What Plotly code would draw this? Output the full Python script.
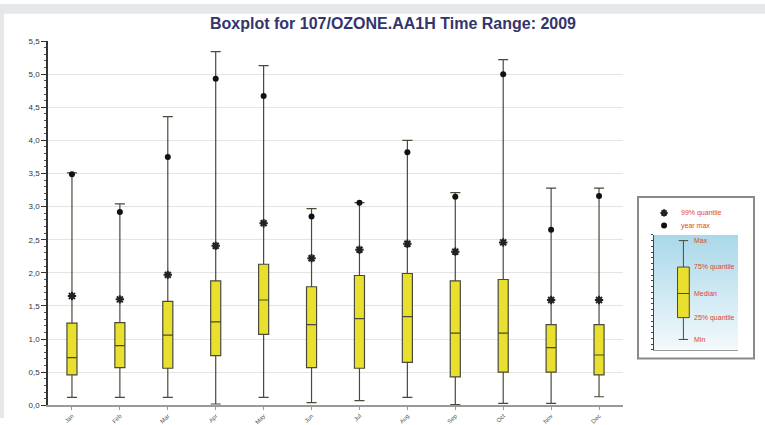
import plotly.graph_objects as go

# ---- data ----
months = ["Jan", "Feb", "Mar", "Apr", "May", "Jun", "Jul", "Aug", "Sep", "Oct", "Nov", "Dec"]
mins    = [0.12, 0.12, 0.12, 0.02, 0.12, 0.04, 0.07, 0.12, 0.01, 0.03, 0.03, 0.13]
q1s     = [0.46, 0.57, 0.56, 0.75, 1.07, 0.57, 0.56, 0.65, 0.43, 0.50, 0.50, 0.46]
medians = [0.72, 0.90, 1.06, 1.26, 1.59, 1.22, 1.31, 1.34, 1.09, 1.09, 0.87, 0.76]
q3s     = [1.24, 1.25, 1.57, 1.88, 2.13, 1.79, 1.96, 1.99, 1.88, 1.90, 1.22, 1.22]
maxs    = [3.51, 3.04, 4.36, 5.34, 5.13, 2.97, 3.06, 4.00, 3.21, 5.22, 3.28, 3.28]
q99     = [1.65, 1.60, 1.97, 2.41, 2.75, 2.22, 2.35, 2.44, 2.32, 2.46, 1.59, 1.59]
dotmax  = [3.49, 2.92, 3.75, 4.93, 4.67, 2.85, 3.06, 3.82, 3.15, 5.00, 2.65, 3.16]

title_text = "Boxplot for 107/OZONE.AA1H Time Range: 2009"
legend_marker_labels = ["99% quantile", "year max"]
legend_box_labels = ["Min", "25% quantile", "Median", "75% quantile", "Max"]
legend_box_sample = [0.9, 2.8, 4.9, 7.2, 9.5]   # illustrative key box (min, q1, med, q3, max)

W, H = 765, 425
def px_x(p):
    return p / W
def px_y(p):
    return 1 - p / H

yellow = "#e8df2e"
key_red = "#e0452e"

fig = go.Figure()

# ---- main chart ----
fig.add_trace(go.Box(
    x=months, q1=q1s, median=medians, q3=q3s,
    lowerfence=mins, upperfence=maxs,
    boxpoints=False, width=0.21, whiskerwidth=1,
    fillcolor=yellow, line=dict(color="#4a4a3a", width=1.2),
    xaxis="x", yaxis="y", showlegend=False, hoverinfo="skip",
))
fig.add_trace(go.Scatter(
    x=months, y=q99, mode="markers",
    marker=dict(symbol="asterisk-open", size=7, color="#222", line=dict(width=2, color="#222")),
    showlegend=False, hoverinfo="skip",
))
fig.add_trace(go.Scatter(
    x=months, y=dotmax, mode="markers",
    marker=dict(symbol="circle", size=6, color="#111"),
    showlegend=False, hoverinfo="skip",
))

# ---- key panel ----
fig.add_trace(go.Scatter(
    x=[0, 1, 1, 0, 0], y=[0, 0, 10, 10, 0], xaxis="x2", yaxis="y2",
    mode="lines", line=dict(width=0), fill="toself",
    fillgradient=dict(type="vertical", colorscale=[[0, "#f3f9fc"], [1, "#a9d8ea"]]),
    showlegend=False, hoverinfo="skip",
))
fig.add_trace(go.Box(
    x=[0.35], q1=[legend_box_sample[1]], median=[legend_box_sample[2]], q3=[legend_box_sample[3]],
    lowerfence=[legend_box_sample[0]], upperfence=[legend_box_sample[4]],
    boxpoints=False, width=0.14, whiskerwidth=0.8,
    fillcolor=yellow, line=dict(color="#4a4a3a", width=1),
    xaxis="x3", yaxis="y3", showlegend=False, hoverinfo="skip",
))
fig.add_trace(go.Scatter(
    x=[0.12], y=[1.5], mode="markers", xaxis="x4", yaxis="y4",
    marker=dict(symbol="asterisk-open", size=6, color="#222", line=dict(width=2, color="#222")),
    showlegend=False, hoverinfo="skip",
))
fig.add_trace(go.Scatter(
    x=[0.12], y=[0.5], mode="markers", xaxis="x4", yaxis="y4",
    marker=dict(symbol="circle", size=6, color="#111"),
    showlegend=False, hoverinfo="skip",
))

annotations = []
for lab, yv in zip(legend_marker_labels, [1.5, 0.5]):
    annotations.append(dict(x=0.3, y=yv, xref="x4", yref="y4", text=lab, showarrow=False,
                            xanchor="left", yanchor="middle",
                            font=dict(size=7, color=key_red, family="Liberation Sans")))
for lab, yv in zip(legend_box_labels, legend_box_sample):
    annotations.append(dict(x=0.45, y=yv, xref="x3", yref="y3", text=lab, showarrow=False,
                            xanchor="left", yanchor="middle",
                            font=dict(size=7, color=key_red, family="Liberation Sans")))

shapes = [
    dict(type="rect", xref="paper", yref="paper", x0=0, x1=1, y0=px_y(10), y1=1,
         fillcolor="#e6e7e9", line=dict(width=0), layer="below"),
    dict(type="rect", xref="paper", yref="paper", x0=0, x1=px_x(4), y0=0, y1=1,
         fillcolor="#e6e7e9", line=dict(width=0), layer="below"),
    dict(type="rect", xref="paper", yref="paper", x0=px_x(638), x1=px_x(754),
         y0=px_y(364), y1=px_y(198), line=dict(color="#8a8a8a", width=2), fillcolor="rgba(0,0,0,0)"),
]

hidden = dict(visible=False, showgrid=False, zeroline=False)
key_x = [px_x(654), px_x(738)]

fig.update_layout(
    width=W, height=H,
    margin=dict(l=0, r=0, t=0, b=0),
    paper_bgcolor="white", plot_bgcolor="white",
    separators=", ",
    title=dict(text="<b>" + title_text + "</b>", x=393 / W, xanchor="center",
               y=px_y(20), yanchor="middle", xref="paper", yref="paper",
               font=dict(family="Liberation Sans", size=16, color="#34346e")),
    xaxis=dict(domain=[px_x(48), px_x(623)], type="category", range=[-0.5, 11.5],
               showline=True, linecolor="#999", linewidth=1.5, showgrid=False,
               ticks="outside", ticklen=3, tickcolor="#999", tickangle=-45,
               tickfont=dict(size=6, color="#555", family="Liberation Sans")),
    yaxis=dict(domain=[px_y(412), px_y(38)], range=[0, 5.5], dtick=0.5, tickformat=".1f",
               showline=True, linecolor="#333", linewidth=1.5, zeroline=False,
               showgrid=True, gridcolor="#e4e4e4", gridwidth=1,
               ticks="outside", ticklen=5, tickcolor="#333",
               minor=dict(dtick=0.1, ticks="outside", ticklen=2, tickcolor="#555", showgrid=False),
               tickfont=dict(size=8, color="#333", family="Liberation Sans")),
    xaxis2=dict(domain=key_x, range=[0, 1], anchor="y2",
                showline=True, linecolor="#999", showgrid=False, zeroline=False,
                showticklabels=False, ticks=""),
    yaxis2=dict(domain=[px_y(355), px_y(237)], range=[0, 10], anchor="x2",
                showline=True, linecolor="#444", showgrid=False, zeroline=False,
                showticklabels=False, ticks="outside", ticklen=2, dtick=0.5, tickcolor="#444"),
    xaxis3=dict(overlaying="x2", range=[0, 1], anchor="y3", **hidden),
    yaxis3=dict(overlaying="y2", range=[0, 10], anchor="x3", **hidden),
    xaxis4=dict(domain=key_x, range=[0, 1], anchor="y4", **hidden),
    yaxis4=dict(domain=[px_y(234), px_y(208)], range=[0, 2], anchor="x4", **hidden),
    shapes=shapes,
    annotations=annotations,
    showlegend=False,
)

fig.write_html("out.html")
